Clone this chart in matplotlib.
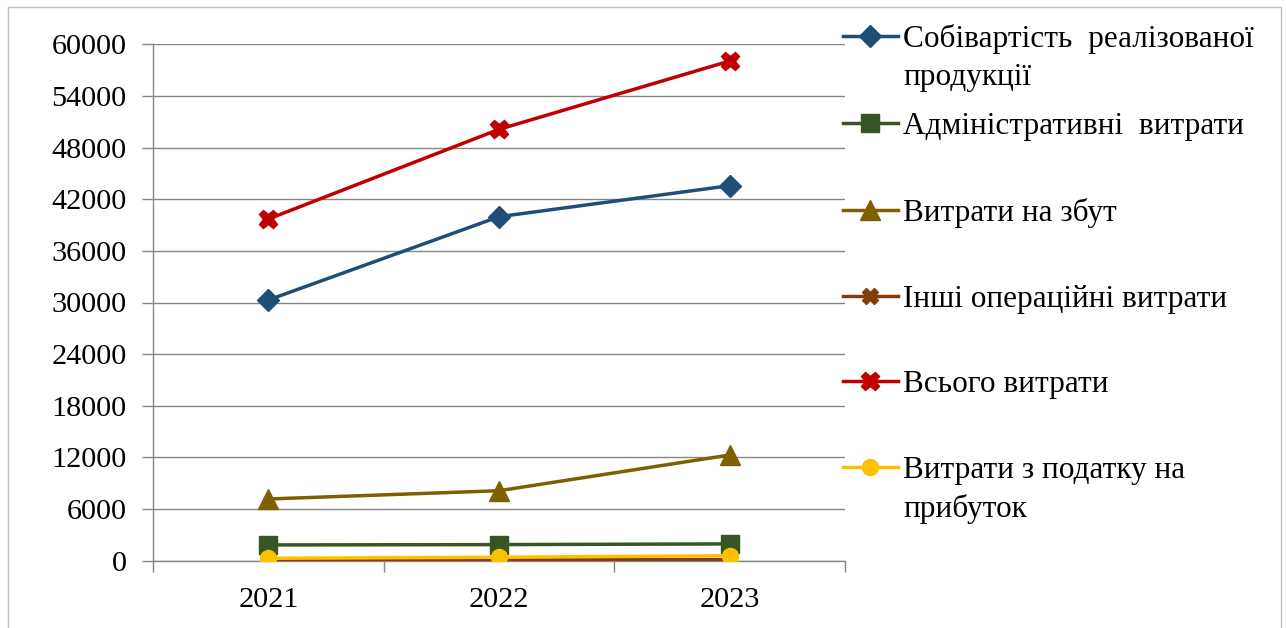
import matplotlib.pyplot as plt
from matplotlib.lines import Line2D
from matplotlib.patches import Rectangle
import numpy as np

years = ['2021', '2022', '2023']
cost_of_sales = [30290, 39970, 43570]
admin_expenses = [1830, 1870, 1950]
selling_expenses = [7170, 8130, 12280]
other_operating = [80, 90, 120]
total_expenses = [39700, 50120, 58060]
income_tax = [280, 400, 580]

series_names = [
    'Собівартість  реалізованої\nпродукції',
    'Адміністративні  витрати',
    'Витрати на збут',
    'Інші операційні витрати',
    'Всього витрати',
    'Витрати з податку на\nприбуток',
]
y_ticks = list(range(0, 60001, 6000))

plt.rcParams['font.family'] = ['Liberation Serif', 'DejaVu Serif']

W, H = 1286, 628
fig = plt.figure(figsize=(W / 100, H / 100), dpi=100)
ax = fig.add_axes([153 / W, 1 - 560.7 / H, (845 - 153) / W, (560.7 - 44.3) / H])

grey = '#868686'

# -------- Series (drawn in Excel order, last on top)
styles = [
    (cost_of_sales, '#1F4E79', 'D', 11.5),
    (admin_expenses, '#375623', 's', 12.5),
    (selling_expenses, '#7F6000', '^', 14),
    (other_operating, '#843C0C', 'X', 11),
    (total_expenses, '#C00000', 'X', 13.5),
    (income_tax, '#FFC000', 'o', 11.5),
]
x = np.arange(len(years))
for vals, color, marker, ms in styles:
    ax.plot(x, vals, color=color, lw=2.5, marker=marker, markersize=ms,
            markerfacecolor=color, markeredgecolor=color, solid_joinstyle='round',
            zorder=3)

# -------- Axes styling
ax.set_xlim(-0.5, 2.5)
ax.set_ylim(0, 60000)
ax.set_yticks(y_ticks)
ax.set_yticklabels([str(v) for v in y_ticks])
ax.set_xticks(x)
ax.set_xticklabels(years)
ax.set_xticks([-0.5, 0.5, 1.5, 2.5], minor=True)
ax.tick_params(axis='x', which='major', length=0, pad=19, labelsize=21.8)
ax.tick_params(axis='x', which='minor', length=8, width=1, color=grey, direction='out')
ax.tick_params(axis='y', length=8, width=1, color=grey, pad=11, labelsize=21.8)
ax.grid(axis='y', color=grey, lw=1)
ax.set_axisbelow(True)
for side in ['top', 'right']:
    ax.spines[side].set_visible(False)
for side in ['left', 'bottom']:
    ax.spines[side].set_color(grey)
    ax.spines[side].set_linewidth(1)

# -------- Manual legend on the right
first_line_y = [36, 123, 210, 296, 381, 467]
line_gap = 38
for (vals, color, marker, ms), name, yy in zip(styles, series_names, first_line_y):
    fy = 1 - yy / H
    fig.add_artist(Line2D([843 / W, 898 / W], [fy, fy], transform=fig.transFigure,
                          color=color, lw=2.5, marker=None))
    fig.add_artist(Line2D([870 / W], [fy], transform=fig.transFigure,
                          color=color, marker=marker, markersize=ms,
                          markerfacecolor=color, markeredgecolor=color))
    for i, part in enumerate(name.split('\n')):
        fig.text(903 / W, 1 - (yy + i * line_gap) / H, part, fontsize=22.5,
                 ha='left', va='center_baseline')

# -------- Outer chart border
fig.add_artist(Rectangle((8 / W, -0.05), (1281 - 8) / W, 1.05 - 7 / H,
                         transform=fig.transFigure, fill=False,
                         edgecolor='#BFBFBF', lw=1))

fig.savefig('out.png', dpi=100)
